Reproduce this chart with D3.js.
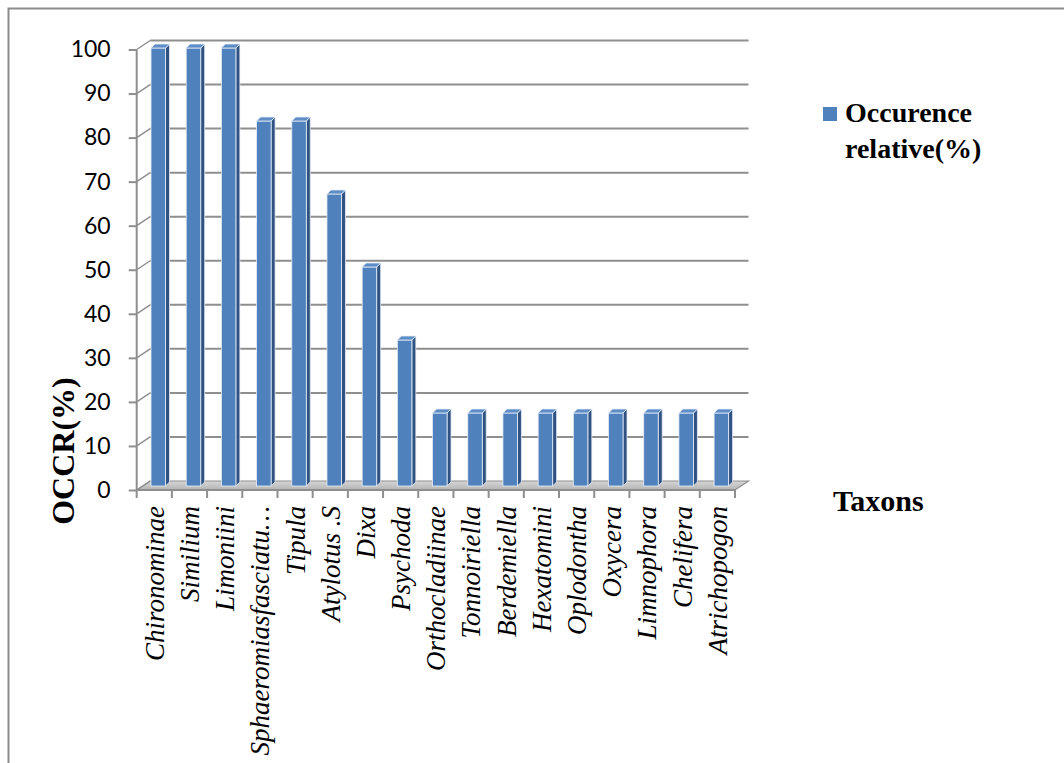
<!DOCTYPE html>
<html>
<head>
<meta charset="utf-8">
<script src="https://cdn.jsdelivr.net/npm/d3@7"></script>
<style>
  html, body { margin: 0; padding: 0; background: #fff; }
  svg { display: block; }
</style>
</head>
<body>
<svg id="chart" width="1064" height="763"></svg>
<script>
// Taxa and their relative occurrence (%)
const taxa = [
  "Chironominae", "Similium", "Limoniini", "Sphaeromiasfasciatu…", "Tipula",
  "Atylotus .S", "Dixa", "Psychoda", "Orthocladiinae", "Tonnoiriella",
  "Berdemiella", "Hexatomini", "Oplodontha", "Oxycera", "Limnophora",
  "Chelifera", "Atrichopogon"
];
const occurrence = [
  100, 100, 100, 83.33, 83.33,
  66.67, 50, 33.33, 16.67, 16.67,
  16.67, 16.67, 16.67, 16.67, 16.67,
  16.67, 16.67
];
const yTicks = [0, 10, 20, 30, 40, 50, 60, 70, 80, 90, 100];
const seriesName = ["Occurence", "relative(%)"];
const yTitle = "OCCR(%)";
const xTitle = "Taxons";

const svg = d3.select("#chart");
const serif = "'Liberation Serif', 'Times New Roman', serif";

// Outer frame
svg.append("rect")
  .attr("x", 8.5).attr("y", 8.5)
  .attr("width", 1100).attr("height", 800)
  .attr("fill", "none").attr("stroke", "#8c8c8c").attr("stroke-width", 2);

// 3D projection: front plane and back wall offset
const depthDx = 13.5, depthDy = -9;

const x = d3.scaleBand().domain(taxa).range([136.7, 735]).paddingInner(0).paddingOuter(0);
const yFront = d3.scaleLinear().domain([0, 100]).range([490, 49.5]);
const yBack = d3.scaleLinear().domain([0, 100]).range([490 + depthDy, 49.5 + depthDy]);
const yBar = d3.scaleLinear().domain([0, 100]).range([486, 48]);

const gridColor = "#8e8e8e";

// Floor
const floorPts = [
  [x.range()[0], yFront(0)],
  [x.range()[1], yFront(0)],
  [x.range()[1] + depthDx, yBack(0)],
  [x.range()[0] + depthDx, yBack(0)]
];
const defs = svg.append("defs");
const fg = defs.append("linearGradient").attr("id", "floorGrad")
  .attr("x1", 0).attr("y1", 0).attr("x2", 0).attr("y2", 1);
fg.append("stop").attr("offset", "0%").attr("stop-color", "#d6d6d6");
fg.append("stop").attr("offset", "100%").attr("stop-color", "#b4b4b4");
svg.append("polygon")
  .attr("points", floorPts.map(p => p.join(",")).join(" "))
  .attr("fill", "url(#floorGrad)")
  .attr("stroke", gridColor).attr("stroke-width", 1.2);

// Back-wall gridlines and side-wall diagonals
const grid = svg.append("g");
yTicks.forEach(t => {
  if (t > 0) {
    grid.append("line")
      .attr("x1", x.range()[0] + depthDx).attr("x2", x.range()[1] + depthDx)
      .attr("y1", yBack(t)).attr("y2", yBack(t))
      .attr("stroke", gridColor).attr("stroke-width", 2);
  }
  grid.append("line")
    .attr("x1", x.range()[0]).attr("y1", yFront(t))
    .attr("x2", x.range()[0] + depthDx).attr("y2", yBack(t))
    .attr("stroke", gridColor).attr("stroke-width", 1.5);
});

// Y axis on the front edge
const yAxis = svg.append("g")
  .attr("transform", `translate(${x.range()[0]},0)`)
  .call(d3.axisLeft(yFront).tickValues(yTicks).tickSize(8).tickPadding(18));
yAxis.select(".domain").attr("stroke", gridColor).attr("stroke-width", 2)
  .attr("d", `M0,${yFront(0)}V${yFront(100)}`);
yAxis.selectAll(".tick line").attr("stroke", gridColor).attr("stroke-width", 2);
yAxis.selectAll(".tick text")
  .attr("font-family", "Lato, 'Open Sans', sans-serif")
  .attr("font-size", 23).attr("fill", "#000");

// X axis front line and boundary ticks
const xAxisG = svg.append("g");
xAxisG.append("line")
  .attr("x1", x.range()[0]).attr("x2", x.range()[1])
  .attr("y1", yFront(0)).attr("y2", yFront(0))
  .attr("stroke", gridColor).attr("stroke-width", 2);
const bounds = taxa.map(t => x(t)).concat([x.range()[1]]);
xAxisG.selectAll("line.tk").data(bounds).join("line").attr("class", "tk")
  .attr("x1", d => d).attr("x2", d => d)
  .attr("y1", yFront(0)).attr("y2", yFront(0) + 8)
  .attr("stroke", gridColor).attr("stroke-width", 2);

// Bars (front face, side, top)
const barOff = 14.3, barW = 14.5, sideD = 4;
const bars = svg.append("g");
taxa.forEach((t, i) => {
  const v = occurrence[i];
  const x0 = x(t) + barOff, x1 = x0 + barW;
  const yt = yBar(v), yb = yBar(0);
  const g = bars.append("g");
  g.append("polygon")
    .attr("points", [[x1, yt], [x1 + sideD, yt - sideD], [x1 + sideD, yb - sideD], [x1, yb]].map(p => p.join(",")).join(" "))
    .attr("fill", "#2f5283").attr("stroke", "#e6edf6").attr("stroke-width", 0.8);
  g.append("rect")
    .attr("x", x0).attr("y", yt).attr("width", barW).attr("height", yb - yt)
    .attr("fill", "#4f81bd").attr("stroke", "#e6edf6").attr("stroke-width", 0.8);
  g.append("polygon")
    .attr("points", [[x0, yt], [x0 + sideD, yt - sideD], [x1 + sideD, yt - sideD], [x1, yt]].map(p => p.join(",")).join(" "))
    .attr("fill", "#5d8cc6").attr("stroke", "#e6edf6").attr("stroke-width", 0.8);
});

// Category labels, rotated
svg.append("g").selectAll("text").data(taxa).join("text")
  .attr("transform", d => `translate(${x(d) + x.bandwidth() / 2},506) rotate(-90)`)
  .attr("text-anchor", "end")
  .attr("dy", "0.35em")
  .attr("font-family", serif)
  .attr("font-style", "italic")
  .attr("font-size", 27)
  .attr("fill", "#000")
  .text(d => d);

// Axis titles
svg.append("text")
  .attr("transform", "translate(74,451) rotate(-90)")
  .attr("text-anchor", "middle")
  .attr("font-family", serif)
  .attr("font-weight", "bold").attr("font-size", 32)
  .text(yTitle);

svg.append("text")
  .attr("x", 833).attr("y", 511)
  .attr("font-family", serif)
  .attr("font-weight", "bold").attr("font-size", 30)
  .text(xTitle);

// Legend
const legend = svg.append("g");
legend.append("rect")
  .attr("x", 823).attr("y", 107).attr("width", 14).attr("height", 14)
  .attr("fill", "#4f81bd");
legend.selectAll("text").data(seriesName).join("text")
  .attr("x", 845).attr("y", (d, i) => 121.7 + i * 36.5)
  .attr("font-family", serif)
  .attr("font-weight", "bold").attr("font-size", 28)
  .text(d => d);
</script>
</body>
</html>
